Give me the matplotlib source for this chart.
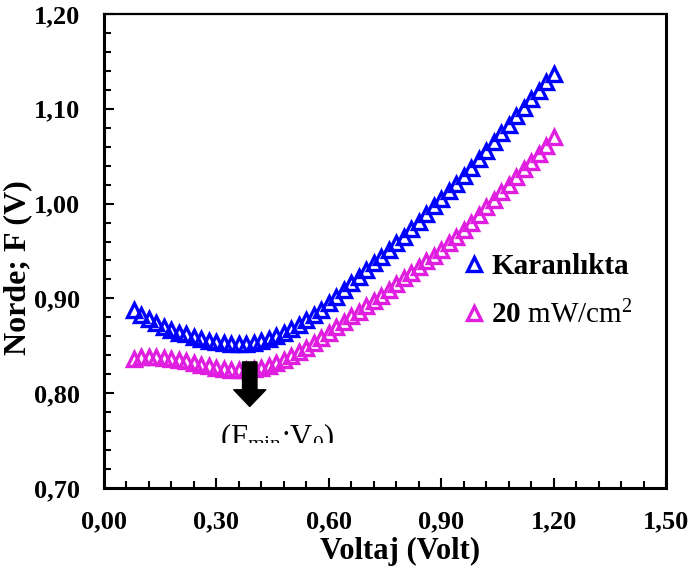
import matplotlib
matplotlib.use("Agg")
import matplotlib.pyplot as plt
from matplotlib.patches import Rectangle
from matplotlib.ticker import MultipleLocator

plt.rcParams['font.family'] = ['Liberation Serif', 'DejaVu Serif']
plt.rcParams['mathtext.fontset'] = 'custom'
plt.rcParams['mathtext.rm'] = 'Liberation Serif'
plt.rcParams['mathtext.it'] = 'Liberation Serif:italic'
plt.rcParams['mathtext.bf'] = 'Liberation Serif:bold'

voltage = [0.08, 0.10, 0.12, 0.14, 0.16, 0.18, 0.20, 0.22, 0.24, 0.26,
           0.28, 0.30, 0.32, 0.34, 0.36, 0.38, 0.40, 0.42, 0.44, 0.46,
           0.48, 0.50, 0.52, 0.54, 0.56, 0.58, 0.60, 0.62, 0.64, 0.66,
           0.68, 0.70, 0.72, 0.74, 0.76, 0.78, 0.80, 0.82, 0.84, 0.86,
           0.88, 0.90, 0.92, 0.94, 0.96, 0.98, 1.00, 1.02, 1.04, 1.06,
           1.08, 1.10, 1.12, 1.14, 1.16, 1.18, 1.20]

dark = [0.888, 0.882, 0.878, 0.874, 0.870, 0.867, 0.864, 0.862, 0.859, 0.857,
        0.855, 0.854, 0.853, 0.852, 0.852, 0.852, 0.853, 0.855, 0.857, 0.860,
        0.864, 0.868, 0.872, 0.877, 0.882, 0.888, 0.895, 0.902, 0.909, 0.916,
        0.923, 0.930, 0.937, 0.944, 0.951, 0.958, 0.965, 0.973, 0.981, 0.989,
        0.997, 1.005, 1.013, 1.021, 1.029, 1.038, 1.047, 1.056, 1.065, 1.074,
        1.083, 1.092, 1.101, 1.110, 1.119, 1.128, 1.137]

light = [0.836, 0.838, 0.838, 0.838, 0.837, 0.836, 0.835, 0.834, 0.832, 0.830,
         0.829, 0.827, 0.826, 0.825, 0.825, 0.825, 0.826, 0.827, 0.829, 0.832,
         0.835, 0.839, 0.843, 0.848, 0.853, 0.858, 0.864, 0.870, 0.875, 0.881,
         0.886, 0.892, 0.897, 0.903, 0.909, 0.915, 0.921, 0.927, 0.933, 0.939,
         0.945, 0.951, 0.958, 0.965, 0.972, 0.980, 0.988, 0.996, 1.004, 1.012,
         1.020, 1.028, 1.036, 1.044, 1.052, 1.061, 1.070]

xticks = [0.0, 0.3, 0.6, 0.9, 1.2, 1.5]
xtick_labels = ["0,00", "0,30", "0,60", "0,90", "1,20", "1,50"]
yticks = [0.7, 0.8, 0.9, 1.0, 1.1, 1.2]
ytick_labels = ["0,70", "0,80", "0,90", "1,00", "1,10", "1,20"]

series_labels = ["Karanlıkta", r"$\mathbf{20}$ mW/cm$^{2}$"]
annot_text = r"(F$_{\mathrm{min}}$;V$_{0}$)"
arrow_x, arrow_top, arrow_tip = 0.389, 0.833, 0.786

fig = plt.figure(figsize=(6.91, 5.78), dpi=100)
ax = fig.add_axes([104/691, 1-488/578, (666-104)/691, (488-14)/578])

ms = 10.5
mew = 2.4
ax.plot(voltage, dark, linestyle='none', marker='^', markersize=ms,
        markerfacecolor='none', markeredgecolor='#0000FF', markeredgewidth=mew,
        label=series_labels[0])
ax.plot(voltage, light, linestyle='none', marker='^', markersize=ms,
        markerfacecolor='none', markeredgecolor='#E01EE0', markeredgewidth=mew,
        label=series_labels[1])

ax.set_xlim(0, 1.5)
ax.set_ylim(0.7, 1.2)
ax.set_xticks(xticks)
ax.set_xticklabels(xtick_labels)
ax.set_yticks(yticks)
ax.set_yticklabels(ytick_labels)
ax.xaxis.set_minor_locator(MultipleLocator(0.06))
ax.yaxis.set_minor_locator(MultipleLocator(0.02))
ax.tick_params(which='both', direction='in', top=False, right=False, width=1.5)
ax.tick_params(which='major', length=7)
ax.tick_params(which='minor', length=5)
ax.tick_params(axis='y', pad=17)
ax.tick_params(axis='x', pad=16)
for lab in ax.get_xticklabels() + ax.get_yticklabels():
    lab.set_fontsize(19)
    lab.set_fontweight('bold')
for sp in ax.spines.values():
    sp.set_linewidth(2.2)
ax.spines['top'].set_linewidth(1.6)

ax.set_xlabel("Voltaj (Volt)", fontsize=22, fontweight='bold')
ax.set_ylabel("Norde; F (V)", fontsize=23, fontweight='bold')
ax.xaxis.set_label_coords(0.527, -0.103)
ax.yaxis.set_label_coords(-0.128, 0.465)

ax.annotate('', xy=(arrow_x, arrow_tip), xytext=(arrow_x, arrow_top),
            arrowprops=dict(arrowstyle='simple,head_width=1.15,head_length=0.6,tail_width=0.52',
                            mutation_scale=20, fc='black', ec='black',
                            shrinkA=0, shrinkB=0))

t = ax.text(0.4615, 0.7445, annot_text, fontsize=22, ha='center', va='baseline',
            clip_on=True)
clip = Rectangle((0, 1-443/578), 1, 443/578, transform=fig.transFigure)
t.set_clip_path(clip)

leg = ax.legend(loc='upper left', bbox_to_anchor=(465/691, 1-253/578),
                bbox_transform=fig.transFigure, frameon=False, fontsize=21,
                numpoints=1, handlelength=0.6, handletextpad=0.3,
                labelspacing=0.7, borderpad=0, borderaxespad=0)
leg.get_texts()[0].set_fontweight('bold')

fig.savefig("out.png", dpi=100)
